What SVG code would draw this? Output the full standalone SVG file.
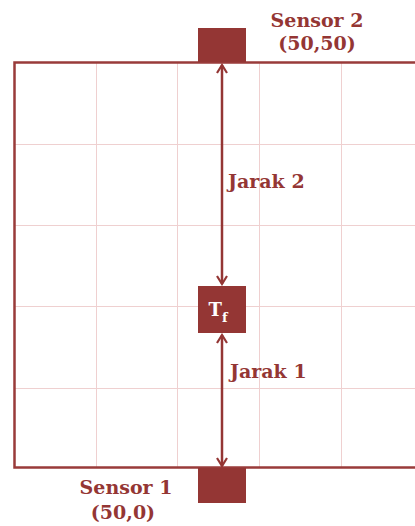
<svg xmlns="http://www.w3.org/2000/svg" width="415" height="526" viewBox="0 0 415 526">
<style>
.grid{stroke:#efd0d0;stroke-width:1;fill:none}
.frame{stroke:#993b3a;stroke-width:2.5;fill:none}
.box{fill:#943634}
.lbl{font-family:"DejaVu Serif","Liberation Serif",serif;font-weight:bold;font-size:19px;fill:#943634}
.conn{stroke:#943634;stroke-width:2.5;fill:none;marker-start:url(#ah);marker-end:url(#ah)}
</style>
<defs>
<marker id="ah" viewBox="0 0 12 12" refX="10" refY="6" markerWidth="12" markerHeight="12" markerUnits="userSpaceOnUse" orient="auto-start-reverse">
<polyline points="2,1 10,6 2,11" fill="none" stroke="#943634" stroke-width="2.2"/>
</marker>
</defs>
<rect width="415" height="526" fill="#ffffff"/>
<g id="grid">
<path class="grid" d="M96.5 62V468M177.5 62V468M259.5 62V468M341.5 62V468M14 144.5H416M14 225.5H416M14 306.5H416M14 388.5H416"/>
<path class="frame" d="M416 62.5H14.5V467.5H416"/>
</g>
<g id="sensor2">
<rect class="box" x="198" y="28" width="48" height="34"/>
<text class="lbl" x="317" y="27" text-anchor="middle">Sensor 2</text>
<text class="lbl" x="317" y="50" text-anchor="middle">(50,50)</text>
</g>
<g id="sensor1">
<rect class="box" x="198" y="468" width="48" height="35"/>
<text class="lbl" x="126" y="494" text-anchor="middle">Sensor 1</text>
<text class="lbl" x="123" y="519" text-anchor="middle">(50,0)</text>
</g>
<g id="tf">
<rect class="box" x="198" y="286" width="48" height="47"/>
<text x="218" y="316" text-anchor="middle" font-family="DejaVu Serif, Liberation Serif, serif" font-weight="bold" font-size="18" fill="#ffffff">T<tspan font-size="13" dy="6">f</tspan></text>
</g>
<g id="connectors">
<line class="conn" x1="222" y1="284" x2="222" y2="65"/>
<line class="conn" x1="222" y1="335" x2="222" y2="466"/>
<text class="lbl" x="228" y="188">Jarak 2</text>
<text class="lbl" x="230" y="378">Jarak 1</text>
</g>
</svg>
